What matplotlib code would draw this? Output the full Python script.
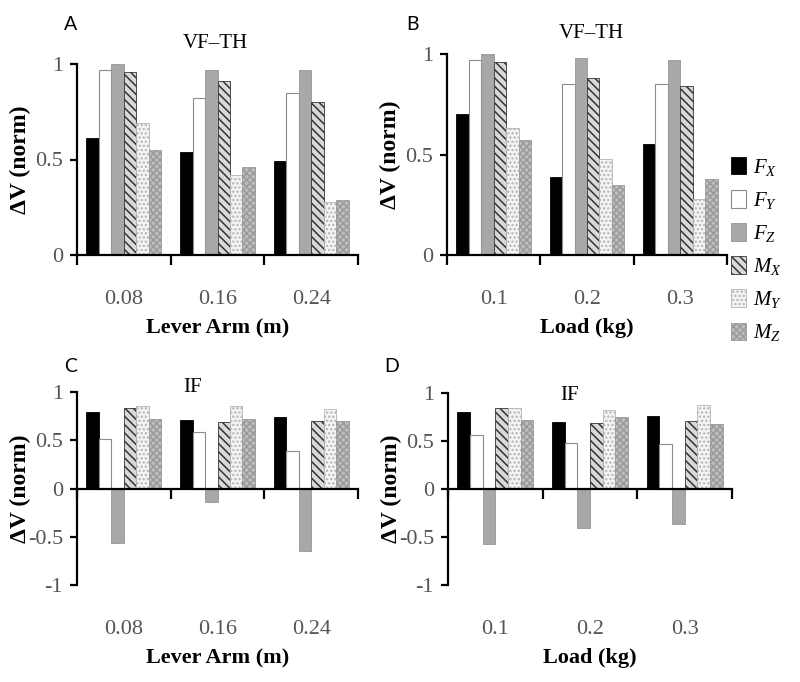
import numpy as np
import matplotlib
matplotlib.use("Agg")
import matplotlib.pyplot as plt

plt.rcParams['font.family'] = 'Liberation Serif'
plt.rcParams['mathtext.fontset'] = 'custom'
plt.rcParams['mathtext.it'] = 'Liberation Serif:italic'
plt.rcParams['mathtext.rm'] = 'Liberation Serif'
plt.rcParams['axes.unicode_minus'] = False
plt.rcParams['hatch.linewidth'] = 1.1

# series and categories
series = ["$F_X$", "$F_Y$", "$F_Z$", "$M_X$", "$M_Y$", "$M_Z$"]
lever_arm = ["0.08", "0.16", "0.24"]
load = ["0.1", "0.2", "0.3"]

# values: one row per series (Fx, Fy, Fz, Mx, My, Mz)
vfth_arm = [
    [0.61, 0.54, 0.49],
    [0.97, 0.82, 0.85],
    [1.00, 0.97, 0.97],
    [0.96, 0.91, 0.80],
    [0.69, 0.42, 0.28],
    [0.55, 0.46, 0.29],
]
vfth_load = [
    [0.70, 0.39, 0.55],
    [0.97, 0.85, 0.85],
    [1.00, 0.98, 0.97],
    [0.96, 0.88, 0.84],
    [0.63, 0.48, 0.28],
    [0.57, 0.35, 0.38],
]
if_arm = [
    [0.79, 0.71, 0.74],
    [0.51, 0.59, 0.39],
    [-0.56, -0.14, -0.65],
    [0.83, 0.69, 0.70],
    [0.85, 0.85, 0.82],
    [0.72, 0.72, 0.70],
]
if_load = [
    [0.80, 0.70, 0.76],
    [0.56, 0.48, 0.47],
    [-0.57, -0.41, -0.36],
    [0.84, 0.69, 0.71],
    [0.84, 0.82, 0.87],
    [0.72, 0.75, 0.68],
]

styles = [
    dict(facecolor="black", edgecolor="black", linewidth=0.6),
    dict(facecolor="white", edgecolor="#8c8c8c", linewidth=0.8),
    dict(facecolor="#a8a8a8", edgecolor="#969696", linewidth=0.6),
    dict(facecolor="#d9d9d9", edgecolor="#333333", hatch="\\\\\\\\", linewidth=0.6),
    dict(facecolor="#f4f4f4", edgecolor="#b4b4b4", hatch="....", linewidth=0.6),
    dict(facecolor="#bfbfbf", edgecolor="#9a9a9a", hatch="xxxxx", linewidth=0.6),
]

W, H = 800, 682
fig = plt.figure(figsize=(W / 100, H / 100), dpi=100)


def px_axes(x0, x1, ytop, ybot):
    return [x0 / W, 1 - ybot / H, (x1 - x0) / W, (ybot - ytop) / H]


def draw(ax, vals, cats, xlabel, title, title_off, signed):
    n = len(vals)
    w = 0.8 / n
    x = np.arange(len(cats))
    bars = []
    for i, (v, st) in enumerate(zip(vals, styles)):
        bars.append(ax.bar(x - 0.4 + w * (i + 0.5), v, w, **st))
    ax.set_xlim(-0.5, len(cats) - 0.5)
    ax.set_xticks(np.arange(len(cats) + 1) - 0.5)
    ax.set_xticklabels([])
    if signed:
        ax.set_ylim(-1, 1)
        ax.set_yticks([-1, -0.5, 0, 0.5, 1])
        ax.set_yticklabels(["-1", "-0.5", "0", "0.5", "1"])
        ax.spines['bottom'].set_position(('data', 0))
    else:
        ax.set_ylim(0, 1)
        ax.set_yticks([0, 0.5, 1])
        ax.set_yticklabels(["0", "0.5", "1"])
    for s in ['top', 'right']:
        ax.spines[s].set_visible(False)
    for s in ['left', 'bottom']:
        ax.spines[s].set_linewidth(1.6)
    ax.tick_params(axis='x', length=7, width=1.6, direction='out')
    ax.tick_params(axis='y', length=5, width=1.6, direction='out',
                   labelsize=16, labelcolor='#555555', pad=5)
    for i, c in enumerate(cats):
        ax.annotate(c, xy=(i, 0), xycoords=('data', 'axes fraction'),
                    xytext=(0, -45), textcoords='offset pixels',
                    ha='center', va='center', fontsize=16, color='#555555')
    ax.annotate(xlabel, xy=(0.5, 0), xycoords='axes fraction',
                xytext=(0, -73), textcoords='offset pixels',
                ha='center', va='center', fontsize=16, fontweight='bold')
    ax.annotate("ΔV (norm)", xy=(0, 0.5), xycoords='axes fraction',
                xytext=(-57, 0), textcoords='offset pixels', rotation=90,
                ha='center', va='center', fontsize=17, fontweight='bold')
    ax.annotate(title, xy=(0.5, 1), xycoords='axes fraction',
                xytext=title_off, textcoords='offset pixels',
                ha='center', va='center', fontsize=15)
    return bars


axA = fig.add_axes(px_axes(77, 358, 64, 255))
axB = fig.add_axes(px_axes(447, 727, 54, 255))
axC = fig.add_axes(px_axes(77, 358, 392, 585))
axD = fig.add_axes(px_axes(448, 732, 393, 585))

draw(axA, vfth_arm, lever_arm, "Lever Arm (m)", "VF–TH", (-2, 21), False)
bars = draw(axB, vfth_load, load, "Load (kg)", "VF–TH", (4, 21), False)
draw(axC, if_arm, lever_arm, "Lever Arm (m)", "IF", (-25, 4), True)
draw(axD, if_load, load, "Load (kg)", "IF", (-20, -2), True)

for lab, (x, y) in zip("ABCD", [(71, 25), (413, 25), (71, 367), (392, 367)]):
    fig.text(x / W, 1 - y / H, lab, fontsize=14, family='Lato',
             ha='center', va='center')

fig.legend(bars, series, loc='upper left', bbox_to_anchor=(731 / W, 1 - 157 / H),
           frameon=False, borderpad=0, borderaxespad=0, fontsize=15,
           handlelength=0.7, handleheight=0.9, handletextpad=0.35,
           labelspacing=0.58)

fig.savefig("out.png", dpi=100)
